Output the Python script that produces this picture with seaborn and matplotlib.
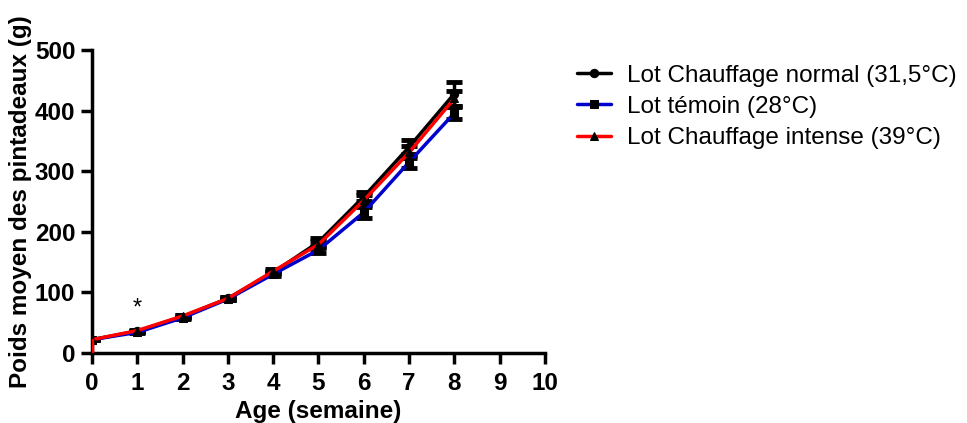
import numpy as np
import pandas as pd
import matplotlib
matplotlib.use("Agg")
import matplotlib.pyplot as plt
import seaborn as sns

# weights (g), error = SEM
age = [0, 1, 2, 3, 4, 5, 6, 7, 8]
normal = [22, 36, 60, 90, 133, 183, 258, 340, 428]
normal_err = [1, 1, 2, 2, 3, 6, 8, 12, 20]
temoin = [22, 34, 58, 89, 130, 170, 232, 315, 396]
temoin_err = [1, 1, 2, 2, 3, 5, 9, 10, 10]
intense = [22, 37, 61, 90, 135, 179, 252, 331, 420]
intense_err = [1, 1, 2, 2, 3, 5, 8, 10, 12]

labels = ["Lot Chauffage normal (31,5°C)", "Lot témoin (28°C)",
          "Lot Chauffage intense (39°C)"]
colors = ["black", "#0000cc", "red"]
markers = ["o", "s", "^"]

sns.set_style("ticks")
plt.rcParams['font.family'] = ['Liberation Sans', 'DejaVu Sans']
plt.rcParams['text.color'] = 'black'
plt.rcParams['xtick.color'] = 'black'
plt.rcParams['ytick.color'] = 'black'
plt.rcParams['axes.labelcolor'] = 'black'
plt.rcParams['axes.edgecolor'] = 'black'

fig = plt.figure(figsize=(9.67, 4.23), dpi=100)
ax = fig.add_axes([0.0951, 0.1655, 0.4685, 0.7163])

series = [(normal, normal_err), (temoin, temoin_err), (intense, intense_err)]
for (vals, errs), lab, col, mk in zip(series, labels, colors, markers):
    df = pd.DataFrame({"age": age, "poids": vals})
    ax.errorbar(age, vals, yerr=errs, fmt="none", ecolor="black",
                elinewidth=2.5, capsize=5.5, capthick=3.5, zorder=2)
    sns.lineplot(data=df, x="age", y="poids", ax=ax, color=col, lw=2.5,
                 marker=mk, markersize=6, markerfacecolor="black",
                 markeredgecolor="black", label=lab, zorder=3)

# red drop line at age 0
ax.plot([age[0], age[0]], [0, intense[0]], color="red", lw=2.5, zorder=3)

ax.text(1, 74, "*", ha="center", va="center", fontsize=17)

ax.set_xlim(0, 10)
ax.set_ylim(0, 500)
ax.set_xticks(range(0, 11))
ax.set_yticks(range(0, 501, 100))
ax.tick_params(width=2.5, length=8, labelsize=17.5, pad=4)
ax.tick_params(axis="x", pad=6)
for t in ax.get_xticklabels() + ax.get_yticklabels():
    t.set_fontweight("bold")
for s in ["left", "bottom"]:
    ax.spines[s].set_linewidth(2.5)
sns.despine(ax=ax)
ax.set_xlabel("Age (semaine)", fontsize=17.5, fontweight="bold", labelpad=3)
ax.set_ylabel("Poids moyen des pintadeaux (g)", fontsize=17.5,
              fontweight="bold", labelpad=2)

leg = ax.legend(loc="upper left", bbox_to_anchor=(1.07, 0.952), frameon=False,
                fontsize=17.5, handlelength=1.4, handletextpad=0.65,
                labelspacing=0.38, borderaxespad=0, borderpad=0)

fig.savefig("out.png", dpi=100)
